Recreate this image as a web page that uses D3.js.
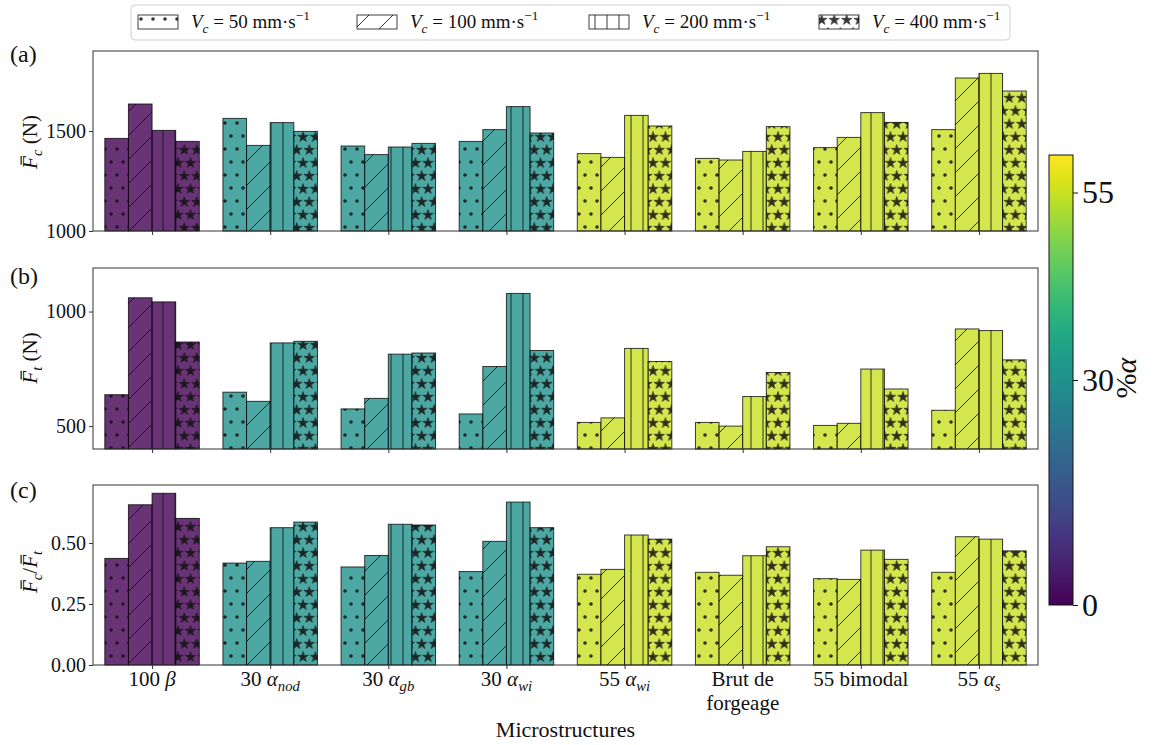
<!DOCTYPE html>
<html><head><meta charset="utf-8">
<script src="https://cdn.jsdelivr.net/npm/d3@7"></script>
<style>
body{margin:0;background:#fff}
svg{display:block}
text{font-family:"Liberation Serif","DejaVu Serif",serif;fill:#111}
</style>
</head><body>
<svg id="chart" width="1156" height="745"></svg>
<script>
// ---------------- DATA ----------------
const categories = ["100 β", "30 α_nod", "30 α_gb", "30 α_wi", "55 α_wi", "Brut de\nforgeage", "55 bimodal", "55 α_s"];
const alphaPercent = [0, 30, 30, 30, 55, 55, 55, 55];
const speeds = [50, 100, 200, 400];
const hatches = ["dots", "slash", "vline", "stars"];

// Panel (a): mean cutting force Fc (N)
const fc_50  = [1463, 1563, 1425, 1448, 1387, 1363, 1417, 1507];
const fc_100 = [1635, 1428, 1382, 1507, 1368, 1355, 1468, 1765];
const fc_200 = [1503, 1542, 1420, 1622, 1578, 1398, 1592, 1788];
const fc_400 = [1448, 1498, 1438, 1490, 1525, 1522, 1543, 1700];
// Panel (b): mean feed force Ft (N)
const ft_50  = [637, 648, 575, 553, 516, 516, 503, 569];
const ft_100 = [1060, 608, 621, 760, 536, 500, 512, 924];
const ft_200 = [1042, 863, 814, 1079, 839, 629, 749, 917];
const ft_400 = [867, 870, 819, 830, 782, 734, 662, 789];
// Panel (c): ratio
const ratio_50  = [0.437, 0.418, 0.402, 0.383, 0.372, 0.380, 0.354, 0.380];
const ratio_100 = [0.657, 0.425, 0.449, 0.507, 0.392, 0.368, 0.351, 0.526];
const ratio_200 = [0.704, 0.563, 0.577, 0.668, 0.533, 0.448, 0.471, 0.516];
const ratio_400 = [0.601, 0.586, 0.574, 0.563, 0.516, 0.485, 0.433, 0.468];

const yTicksA = [1000, 1500];
const yTicksB = [500, 1000];
const yTicksC = [0, 0.25, 0.5];
const colorbarTicks = [0, 30, 55];
const colorbarRange = [0, 60];

// ---------------- SETUP ----------------
const FONT = '"Liberation Serif","DejaVu Serif",serif';
const svg = d3.select("#chart");
const defs = svg.append("defs");
const INK = "#111";

const x = d3.scaleLinear().domain([-0.5, categories.length - 0.5]).range([93, 1038]);
const color = d3.scaleSequential(d3.interpolateViridis).domain(colorbarRange);
const barW = 0.2;

// hatch patterns
function pattern(id, w, h, draw) {
  const p = defs.append("pattern").attr("id", id)
    .attr("patternUnits", "userSpaceOnUse").attr("width", w).attr("height", h);
  draw(p, w, h);
}
function tiled(p, w, h, pts, fn) {
  pts.forEach(([px, py]) => {
    [-w, 0, w].forEach(dx => [-h, 0, h].forEach(dy => fn(p, px + dx, py + dy)));
  });
}
pattern("h-dots", 12, 26, (p, w, h) => tiled(p, w, h, [[3, 6], [9, 19]],
  (g, cx, cy) => g.append("circle").attr("cx", cx).attr("cy", cy).attr("r", 1.8).attr("fill", INK)));
const starPath = d3.symbol(d3.symbolStar, 5.6 * 5.6 / 0.8908130915292852)();
pattern("h-stars", 12.5, 26, (p, w, h) => tiled(p, w, h, [[3, 7], [9.25, 20]],
  (g, cx, cy) => g.append("path").attr("d", starPath).attr("transform", `translate(${cx},${cy})`)
    .attr("fill", INK).attr("stroke", INK).attr("stroke-width", 0.6).attr("stroke-linejoin", "round")));
pattern("h-vline", 12, 12, p => p.append("path").attr("d", "M7,-1V13").attr("stroke", INK).attr("stroke-width", 1));
pattern("h-slash", 24, 24, p => p.append("path").attr("d", "M-6,6L6,-6M0,24L24,0M18,30L30,18")
  .attr("stroke", INK).attr("stroke-width", 1).attr("fill", "none"));

// rich text helper: segments {t, i(italic), sub, sup, bar}
function richText(parent, px, py, segs, size, anchor) {
  const t = parent.append("text").attr("x", px).attr("y", py)
    .attr("font-family", FONT)
    .attr("font-size", size).attr("text-anchor", anchor || "start");
  let shift = 0;
  const bars = [];
  let idx = 0;
  segs.forEach(s => {
    const ts = t.append("tspan").text(s.t);
    let target = 0;
    if (s.sub) target = 0.26 * size;
    if (s.sup) target = -0.42 * size;
    if (target !== shift) { ts.attr("dy", target - shift); shift = target; }
    if (s.sub || s.sup) ts.attr("font-size", 0.7 * size);
    if (s.i) ts.attr("font-style", "italic");
    if (s.bar) bars.push(idx);
    idx += s.t.length;
  });
  bars.forEach(ci => {
    const e = t.node().getExtentOfChar(ci);
    parent.append("line")
      .attr("x1", e.x + e.width * 0.32).attr("x2", e.x + e.width * 1.0)
      .attr("y1", e.y + e.height * 0.13).attr("y2", e.y + e.height * 0.13)
      .attr("stroke", INK).attr("stroke-width", 1.2);
  });
  return t;
}

// ---------------- PANELS ----------------
const panels = [
  { letter: "(a)", top: 51, bottom: 231, domain: [1000, 1900], ticks: yTicksA, fmt: d3.format("d"),
    series: [fc_50, fc_100, fc_200, fc_400], letterY: 62, labelY: 142,
    ylabel: [{ t: "F", i: 1, bar: 1 }, { t: "c", i: 1, sub: 1 }, { t: " (N)" }] },
  { letter: "(b)", top: 268, bottom: 449, domain: [400, 1190], ticks: yTicksB, fmt: d3.format("d"),
    series: [ft_50, ft_100, ft_200, ft_400], letterY: 284, labelY: 358,
    ylabel: [{ t: "F", i: 1, bar: 1 }, { t: "t", i: 1, sub: 1 }, { t: " (N)" }] },
  { letter: "(c)", top: 485, bottom: 665, domain: [0, 0.738], ticks: yTicksC, fmt: d3.format(".2f"),
    series: [ratio_50, ratio_100, ratio_200, ratio_400], letterY: 498, labelY: 572,
    ylabel: [{ t: "F", i: 1, bar: 1 }, { t: "c", i: 1, sub: 1 }, { t: "/" }, { t: "F", i: 1, bar: 1 }, { t: "t", i: 1, sub: 1 }] }
];

panels.forEach((P, pi) => {
  const y = d3.scaleLinear().domain(P.domain).range([P.bottom, P.top]);
  const g = svg.append("g");
  // bars
  P.series.forEach((vals, j) => {
    const off = (j - 1.5) * barW - barW / 2;
    const bars = g.append("g").selectAll("g").data(vals).join("g");
    const bx = (d, i) => x(i + off);
    const bw = x(barW) - x(0);
    bars.append("rect").attr("x", bx).attr("y", d => y(d)).attr("width", bw)
      .attr("height", d => y(P.domain[0]) - y(d))
      .attr("fill", (d, i) => color(alphaPercent[i])).attr("fill-opacity", 0.8);
    bars.append("rect").attr("x", bx).attr("y", d => y(d)).attr("width", bw)
      .attr("height", d => y(P.domain[0]) - y(d))
      .attr("fill", `url(#h-${hatches[j]})`).attr("opacity", 0.85);
    bars.append("rect").attr("x", bx).attr("y", d => y(d)).attr("width", bw)
      .attr("height", d => y(P.domain[0]) - y(d))
      .attr("fill", "none").attr("stroke", "#000").attr("stroke-opacity", 0.75).attr("stroke-width", 1);
  });
  // frame
  g.append("rect").attr("x", x.range()[0]).attr("y", P.top)
    .attr("width", x.range()[1] - x.range()[0]).attr("height", P.bottom - P.top)
    .attr("fill", "none").attr("stroke", "#333").attr("stroke-width", 1);
  // y axis
  const ya = g.append("g").attr("transform", `translate(${x.range()[0]},0)`)
    .call(d3.axisLeft(y).tickValues(P.ticks).tickFormat(P.fmt).tickSize(4).tickPadding(3));
  ya.attr("font-family", FONT);
  ya.select(".domain").remove();
  ya.selectAll("line").attr("stroke", "#333");
  ya.selectAll("text").attr("font-size", 20).attr("font-family", FONT).attr("fill", INK);
  // x ticks
  const xa = g.append("g").attr("transform", `translate(0,${P.bottom})`)
    .call(d3.axisBottom(x).tickValues(d3.range(categories.length)).tickSize(4).tickFormat(""));
  xa.select(".domain").remove();
  xa.selectAll("line").attr("stroke", "#333");
  // panel letter
  svg.append("text").attr("x", 10).attr("y", P.letterY).attr("font-family", FONT).attr("font-size", 24).text(P.letter);
  // y label
  const lg = svg.append("g").attr("transform", `translate(37,${P.labelY}) rotate(-90)`);
  richText(lg, 0, 0, P.ylabel, 21, "middle");
  // category labels on the last panel
  if (pi === panels.length - 1) {
    categories.forEach((c, i) => {
      c.split("\n").forEach((line, li) => {
        const m = line.match(/^(.*?)([αβ])(?:_(\w+))?$/);
        const segs = m ? [{ t: m[1] }, { t: m[2], i: 1 }].concat(m[3] ? [{ t: m[3], i: 1, sub: 1 }] : [])
                       : [{ t: line }];
        richText(svg, x(i), 686 + li * 24, segs, 21, "middle");
      });
    });
    svg.append("text").attr("x", (x.range()[0] + x.range()[1]) / 2).attr("y", 737)
      .attr("text-anchor", "middle").attr("font-family", FONT).attr("font-size", 22).text("Microstructures");
  }
});

// ---------------- LEGEND ----------------
const leg = svg.append("g");
leg.append("rect").attr("x", 131).attr("y", 5).attr("width", 879).attr("height", 35).attr("rx", 4)
  .attr("fill", "#fff").attr("stroke", "#d0d0d0").attr("stroke-width", 1);
const legX = [138, 357, 589, 819];
speeds.forEach((s, j) => {
  const lx = legX[j];
  leg.append("rect").attr("x", lx).attr("y", 15).attr("width", 40).attr("height", 14).attr("fill", "#fff");
  leg.append("rect").attr("x", lx).attr("y", 15).attr("width", 40).attr("height", 14)
    .attr("fill", `url(#h-${hatches[j]})`).attr("opacity", 0.85);
  leg.append("rect").attr("x", lx).attr("y", 15).attr("width", 40).attr("height", 14)
    .attr("fill", "none").attr("stroke", "#000").attr("stroke-opacity", 0.75);
  richText(leg, lx + 53, 28, [{ t: "V", i: 1 }, { t: "c", i: 1, sub: 1 }, { t: ` = ${s} mm·s` }, { t: "−1", sup: 1 }], 19, "start");
});

// ---------------- COLORBAR ----------------
const cbY = d3.scaleLinear().domain(colorbarRange).range([605, 155]);
const grad = defs.append("linearGradient").attr("id", "cbgrad").attr("x1", 0).attr("y1", 1).attr("x2", 0).attr("y2", 0);
d3.range(0, 1.0001, 0.05).forEach(t => grad.append("stop").attr("offset", t).attr("stop-color", d3.interpolateViridis(t)));
svg.append("rect").attr("x", 1049).attr("y", 155).attr("width", 24).attr("height", 450)
  .attr("fill", "url(#cbgrad)").attr("stroke", "#111").attr("stroke-width", 1);
const cba = svg.append("g").attr("transform", "translate(1073,0)")
  .call(d3.axisRight(cbY).tickValues(colorbarTicks).tickSize(5).tickPadding(4));
cba.select(".domain").remove();
cba.selectAll("line").attr("stroke", "#111");
cba.selectAll("text").attr("font-size", 32).attr("font-family", FONT).attr("fill", INK);
const cbl = svg.append("g").attr("transform", "translate(1136,378) rotate(-90)");
richText(cbl, 0, 0, [{ t: "%" }, { t: "α", i: 1 }], 30, "middle");
</script>
</body></html>
